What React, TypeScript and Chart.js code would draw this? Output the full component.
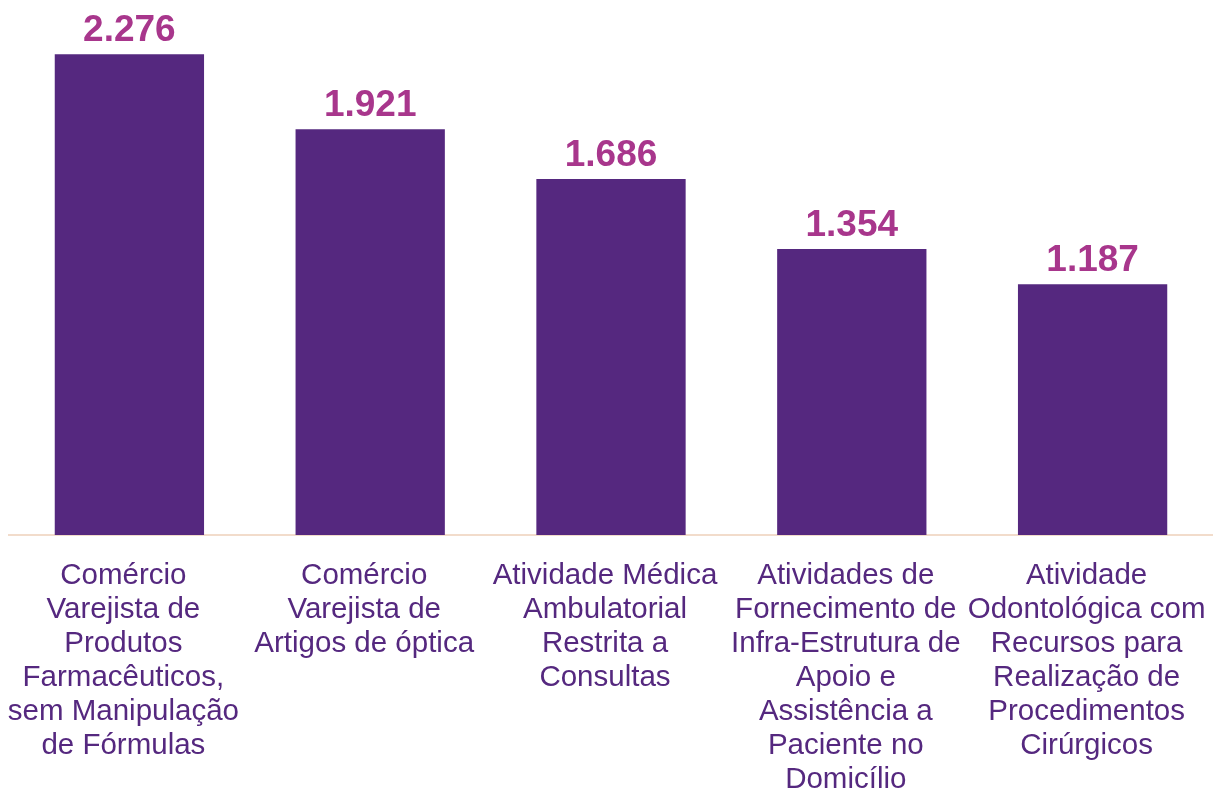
import React, { useEffect, useRef } from "react";
import { Chart, registerables } from "chart.js";

Chart.register(...registerables);

const categories: string[][] = [
  ["Comércio", "Varejista de", "Produtos", "Farmacêuticos,", "sem Manipulação", "de Fórmulas"],
  ["Comércio", "Varejista de", "Artigos de óptica"],
  ["Atividade Médica", "Ambulatorial", "Restrita a", "Consultas"],
  ["Atividades de", "Fornecimento de", "Infra-Estrutura de", "Apoio e", "Assistência a", "Paciente no", "Domicílio"],
  ["Atividade", "Odontológica com", "Recursos para", "Realização de", "Procedimentos", "Cirúrgicos"],
];
const values: number[] = [2276, 1921, 1686, 1354, 1187];
const valueLabels: string[] = ["2.276", "1.921", "1.686", "1.354", "1.187"];

const BAR_COLOR = "#55287F";
const LABEL_COLOR = "#A8368C";

const valueLabelPlugin = {
  id: "valueLabels",
  afterDatasetsDraw(chart: any) {
    const ctx = chart.ctx;
    const meta = chart.getDatasetMeta(0);
    ctx.save();
    ctx.font = "bold 37px 'Liberation Sans', Arial, sans-serif";
    ctx.fillStyle = LABEL_COLOR;
    ctx.textAlign = "center";
    ctx.textBaseline = "alphabetic";
    meta.data.forEach((bar: any, i: number) => {
      ctx.fillText(valueLabels[i], bar.x, bar.y - 13);
    });
    ctx.restore();
  },
};

export default function App() {
  const canvasRef = useRef<HTMLCanvasElement | null>(null);

  useEffect(() => {
    document.body.style.margin = "0";
    const canvas = canvasRef.current;
    if (!canvas) return;
    const chart = new Chart(canvas, {
      type: "bar",
      data: {
        labels: categories,
        datasets: [
          {
            data: values,
            backgroundColor: BAR_COLOR,
            borderWidth: 0,
            categoryPercentage: 1,
            barPercentage: 0.62,
          },
        ],
      },
      options: {
        animation: false,
        responsive: false,
        maintainAspectRatio: false,
        layout: { padding: { left: 9, right: 0, top: 7, bottom: 0 } },
        plugins: {
          legend: { display: false },
          tooltip: { enabled: false },
          title: { display: false },
        },
        scales: {
          x: {
            grid: { display: false, drawTicks: false },
            border: { display: true, color: "#F2DCCB", width: 2 },
            ticks: {
              color: BAR_COLOR,
              font: { family: "'Liberation Sans', Arial, sans-serif", size: 29.5, lineHeight: "34px" },
              padding: 24,
              labelOffset: -6,
              maxRotation: 0,
              minRotation: 0,
              autoSkip: false,
            },
            afterFit: (scale: any) => {
              scale.height = 256;
              scale.paddingLeft = 0;
              scale.paddingRight = 0;
            },
          },
          y: {
            display: false,
            min: 0,
            max: 2500,
          },
        },
      },
      plugins: [valueLabelPlugin],
    });
    return () => chart.destroy();
  }, []);

  return (
    <div style={{ width: 1213, height: 791 }}>
      <canvas ref={canvasRef} width={1213} height={791} style={{ display: "block" }} />
    </div>
  );
}
